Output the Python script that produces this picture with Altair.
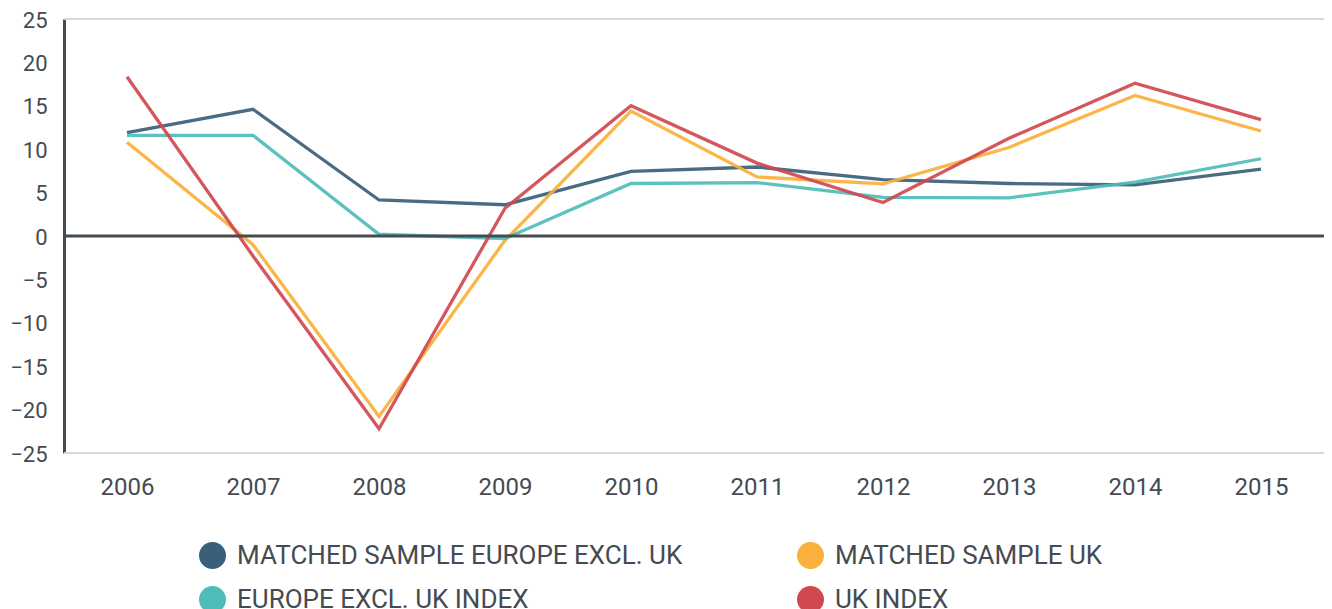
import altair as alt
import pandas as pd

years = ["2006", "2007", "2008", "2009", "2010", "2011", "2012", "2013", "2014", "2015"]
series_names = [
    "MATCHED SAMPLE EUROPE EXCL. UK",
    "MATCHED SAMPLE UK",
    "EUROPE EXCL. UK INDEX",
    "UK INDEX",
]
matched_europe = [11.9, 14.6, 4.15, 3.6, 7.45, 7.95, 6.5, 6.05, 5.9, 7.7]
matched_uk = [10.8, -1.0, -20.8, -0.5, 14.4, 6.8, 6.0, 10.2, 16.2, 12.1]
europe_index = [11.6, 11.6, 0.2, -0.3, 6.05, 6.15, 4.45, 4.4, 6.2, 8.9]
uk_index = [18.35, -2.3, -22.2, 3.2, 15.0, 8.4, 3.85, 11.25, 17.6, 13.4]
colors = ["#3a6079", "#fbb03b", "#4dbdb7", "#d0494f"]
y_ticks = [25, 20, 15, 10, 5, 0, -5, -10, -15, -20, -25]

rows = []
for name, vals in zip(series_names, [matched_europe, matched_uk, europe_index, uk_index]):
    for yr, v in zip(years, vals):
        rows.append({"year": yr, "value": v, "series": name, "order": series_names.index(name)})
df = pd.DataFrame(rows)

TEXT = "#454b52"
FONT = "Roboto"

x_enc = alt.X("year:O", scale=alt.Scale(domain=years, type="point", padding=0.5),
              axis=alt.Axis(title=None, domain=False, ticks=False, grid=False,
                            labelFontSize=24, labelColor=TEXT, labelFont=FONT,
                            labelPadding=22, labelAngle=0))
y_scale = alt.Scale(domain=[-25, 25], nice=False, zero=False)
y_enc = alt.Y("value:Q", scale=y_scale,
              axis=alt.Axis(title=None, values=y_ticks, grid=False, ticks=False,
                            domain=True, domainColor=TEXT, domainWidth=3,
                            labelFontSize=22, labelColor=TEXT, labelFont=FONT,
                            labelPadding=17, labelOffset=1))
color_enc = alt.Color("series:N", sort=series_names,
                      scale=alt.Scale(domain=series_names, range=colors),
                      legend=alt.Legend(title=None, orient="none", legendX=135, legendY=523,
                                        direction="horizontal", columns=2, columnPadding=114,
                                        rowPadding=17, symbolType="circle", symbolSize=729,
                                        symbolStrokeWidth=0, symbolOpacity=1,
                                        labelFontSize=26, labelFont=FONT, labelColor=TEXT,
                                        labelOffset=11, padding=0, labelLimit=600))

points = alt.Chart(df).mark_point(filled=True, size=1, opacity=0).encode(
    x=x_enc, y=y_enc, color=color_enc,
)

lines = alt.Chart(df).mark_line(strokeWidth=3.3, opacity=0.92).encode(
    x=x_enc, y=y_enc, color=color_enc,
    order=alt.Order("order:Q"),
)

edge_df = pd.DataFrame({"v": [25, -25]})
edges = alt.Chart(edge_df).mark_rule(color="#ddd6cf", strokeWidth=2).encode(
    y=alt.Y("v:Q", scale=y_scale)
)
zero_df = pd.DataFrame({"v": [0]})
zero = alt.Chart(zero_df).mark_rule(color=TEXT, strokeWidth=3).encode(
    y=alt.Y("v:Q", scale=y_scale)
)

chart = alt.layer(points, edges, lines, zero).properties(
    width=1260, height=434,
    autosize=alt.AutoSizeParams(type="none"),
    padding={"left": 56, "top": 11, "right": 0, "bottom": 164},
).configure_view(stroke=None)

chart.save("out.html", embed_options={"renderer": "svg", "actions": False})
